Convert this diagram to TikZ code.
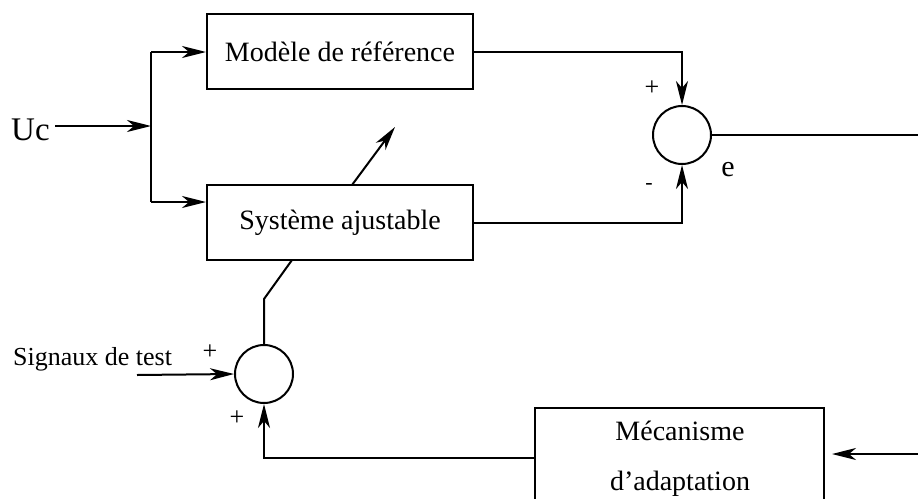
\documentclass[tikz,border=0pt]{standalone}
\usepackage{fontspec}
\setmainfont{Liberation Serif}
\usetikzlibrary{arrows.meta}
\begin{document}
\begin{tikzpicture}[x=1pt,y=-1pt,
  wire/.style={line width=2pt,line join=miter},
  arr/.style={wire,-{Stealth[length=24pt,width=12pt,inset=7pt]}},
  block/.style={draw,line width=2pt,minimum width=266pt,minimum height=75pt,inner sep=0pt,font=\fontsize{28}{30}\selectfont},
  sum/.style={draw,circle,line width=2pt,minimum size=58pt,inner sep=0pt},
  lbl/.style={inner sep=0pt,font=\fontsize{28}{30}\selectfont},
  sign/.style={inner sep=0pt,font=\fontsize{26}{28}\selectfont}]
\useasboundingbox (0,0) rectangle (918,498);
\clip (0,0) rectangle (918,498);

% blocks and summing junctions
\node[block] (ref) at (340,51.5) {Modèle de référence};
\node[block] (adj) at (340,222.5) {Système ajustable};
\node[sum] (s1) at (682,135) {};
\node[sum] (s2) at (264,374) {};
\node[draw,line width=2pt,minimum width=289pt,minimum height=140pt,inner sep=0pt] (mec) at (679.5,478) {};
\node[lbl,anchor=base] (mec1) at (680,440) {Mécanisme};
\node[lbl,anchor=base] (mec2) at (680,490) {d’adaptation};

% texts
\node[lbl,font=\fontsize{33}{35}\selectfont,anchor=base west] (uc) at (11,140) {Uc};
\node[lbl,font=\fontsize{26}{28}\selectfont,anchor=base west] (sig) at (13,365) {Signaux de test};
\node[lbl,font=\fontsize{30}{32}\selectfont,anchor=base] (e) at (728,176) {e};
\node[sign] (p1) at (652,88) {+};
\node[sign,font=\fontsize{22}{24}\selectfont] (m1) at (649,186) {-};
\node[sign] (p2) at (210,352) {+};
\node[sign] (p3) at (237,418) {+};

% helper points
\coordinate (ucout) at (55,126);
\coordinate (j) at (151,126);
\coordinate (jt) at (151,52);
\coordinate (jb) at (151,202);
\coordinate (a1) at (352,185);
\coordinate (a2) at (395,127);
\coordinate (eo) at (918,135);
\coordinate (k) at (264,299);
\coordinate (ka) at (292,260);
\coordinate (sigout) at (137,375);
\coordinate (mo) at (535,458);
\coordinate (min) at (918,454);
\coordinate (mi) at (832,454);

% input distribution
\draw[arr] (ucout) -- (j);
\draw[wire] (jt) -- (jb);
\draw[arr] (jt) -- (ref.west |- jt);
\draw[arr] (jb) -- (adj.west |- jb);

% error computation
\draw[arr] (ref.east) -| (s1.north);
\draw[arr] (adj.east) -| (s1.south);
\draw[wire] (s1.east) -- (eo);

% adjustment
\draw[arr] (a1) -- (a2);
\draw[wire] (s2.north) -- (k) -- (ka);
\draw[arr] (sigout) -- (s2.west);
\draw[arr] (mo) -| (s2.south);
\draw[arr] (min) -- (mi);
\end{tikzpicture}
\end{document}
